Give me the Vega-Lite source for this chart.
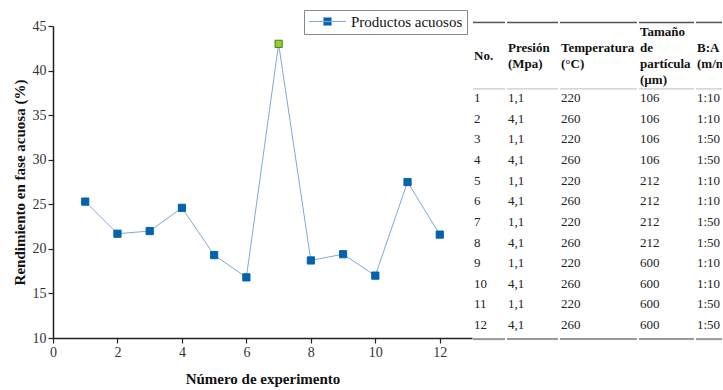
{
  "$schema": "https://vega.github.io/schema/vega-lite/v6.json",
  "padding": {"left": 12, "top": 9, "right": 0, "bottom": 4},
  "autosize": {"type": "pad"},
  "spacing": 0,
  "datasets": {
    "exp": [
      {"No": 1, "Presion": "1,1", "Temperatura": "220", "Tamano": "106", "BA": "1:10", "Rendimiento": 25.3},
      {"No": 2, "Presion": "4,1", "Temperatura": "260", "Tamano": "106", "BA": "1:10", "Rendimiento": 21.7},
      {"No": 3, "Presion": "1,1", "Temperatura": "220", "Tamano": "106", "BA": "1:50", "Rendimiento": 22.0},
      {"No": 4, "Presion": "4,1", "Temperatura": "260", "Tamano": "106", "BA": "1:50", "Rendimiento": 24.6},
      {"No": 5, "Presion": "1,1", "Temperatura": "220", "Tamano": "212", "BA": "1:10", "Rendimiento": 19.3},
      {"No": 6, "Presion": "4,1", "Temperatura": "260", "Tamano": "212", "BA": "1:10", "Rendimiento": 16.8},
      {"No": 7, "Presion": "1,1", "Temperatura": "220", "Tamano": "212", "BA": "1:50", "Rendimiento": 43.0},
      {"No": 8, "Presion": "4,1", "Temperatura": "260", "Tamano": "212", "BA": "1:50", "Rendimiento": 18.7},
      {"No": 9, "Presion": "1,1", "Temperatura": "220", "Tamano": "600", "BA": "1:10", "Rendimiento": 19.4},
      {"No": 10, "Presion": "4,1", "Temperatura": "260", "Tamano": "600", "BA": "1:10", "Rendimiento": 17.0},
      {"No": 11, "Presion": "1,1", "Temperatura": "220", "Tamano": "600", "BA": "1:50", "Rendimiento": 27.5},
      {"No": 12, "Presion": "4,1", "Temperatura": "260", "Tamano": "600", "BA": "1:50", "Rendimiento": 21.6}
    ]
  },
  "resolve": {"legend": {"color": "independent"}},
  "hconcat": [
    {
      "width": 419,
      "height": 312,
      "data": {"name": "exp"},
      "layer": [
        {
          "mark": {"type": "line", "strokeWidth": 1},
          "encoding": {
            "x": {"field": "No", "type": "quantitative"},
            "y": {"field": "Rendimiento", "type": "quantitative"},
            "color": {
              "datum": "Productos acuosos",
              "type": "nominal",
              "scale": {"range": ["#7FA9D9"]},
              "legend": {
                "title": null,
                "orient": "none",
                "legendX": 251,
                "legendY": -16,
                "strokeColor": "#888",
                "fillColor": "white",
                "padding": 4,
                "labelFont": "Liberation Serif",
                "labelFontSize": 15,
                "labelColor": "#111",
                "symbolType": "M-2.64,0H2.64M-0.57,-0.57H0.57V0.57H-0.57Z",
                "symbolSize": 196,
                "symbolStrokeWidth": 1,
                "symbolFillColor": "#0563AE",
                "symbolOffset": 12,
                "labelOffset": 16
              }
            }
          }
        },
        {
          "mark": {"type": "point", "shape": "square", "filled": true, "size": 52, "opacity": 1, "strokeWidth": 1},
          "encoding": {
            "x": {
              "field": "No",
              "type": "quantitative",
              "scale": {"domain": [0, 13], "nice": false, "zero": false},
              "axis": {
                "values": [0, 1, 2, 3, 4, 5, 6, 7, 8, 9, 10, 11, 12, 13],
                "labelExpr": "datum.value % 2 == 0 ? datum.label : ''",
                "grid": false,
                "tickSize": 5,
                "tickWidth": 1.2,
                "domainWidth": 1.5,
                "domainColor": "#222",
                "tickColor": "#222",
                "labelFont": "Liberation Serif",
                "labelFontSize": 14,
                "labelColor": "#333",
                "labelPadding": 2,
                "labelFlush": false,
                "labelOverlap": false,
                "title": "Número de experimento",
                "titleFont": "Liberation Serif",
                "titleFontSize": 15,
                "titleFontWeight": "bold",
                "titleColor": "#111",
                "titlePadding": 12
              }
            },
            "y": {
              "field": "Rendimiento",
              "type": "quantitative",
              "scale": {"domain": [10, 45], "nice": false, "zero": false},
              "axis": {
                "values": [10, 12.5, 15, 17.5, 20, 22.5, 25, 27.5, 30, 32.5, 35, 37.5, 40, 42.5, 45],
                "labelExpr": "datum.value % 5 == 0 ? datum.label : ''",
                "grid": false,
                "tickSize": 5,
                "tickWidth": 1.2,
                "domainWidth": 1.5,
                "domainColor": "#222",
                "tickColor": "#222",
                "labelFont": "Liberation Serif",
                "labelFontSize": 14,
                "labelColor": "#333",
                "labelPadding": 2,
                "labelFlush": false,
                "labelOverlap": false,
                "title": "Rendimiento en fase acuosa (%)",
                "titleFont": "Liberation Serif",
                "titleFontSize": 15,
                "titleFontWeight": "bold",
                "titleColor": "#111",
                "titlePadding": 5
              }
            },
            "fill": {"condition": {"test": "datum.No == 7", "value": "#92D12A"}, "value": "#0563AE"},
            "stroke": {"condition": {"test": "datum.No == 7", "value": "#4E7A2E"}, "value": "#0563AE"}
          }
        }
      ]
    },
    {
      "width": 32,
      "height": 316,
      "data": {"name": "exp"},
      "layer": [
        {"data": {"values": [{}]}, "mark": {"type": "rule", "color": "#555", "strokeWidth": 1.5}, "encoding": {"y": {"datum": -2.66, "type": "quantitative", "scale": {"domain": [-2.488, 12.82], "reverse": true, "nice": false, "zero": false}, "axis": null}}},
        {"data": {"values": [{}]}, "mark": {"type": "rule", "color": "#bbb", "strokeWidth": 1}, "encoding": {"y": {"datum": 0.56, "type": "quantitative"}}},
        {"data": {"values": [{}]}, "mark": {"type": "rule", "color": "#999", "strokeWidth": 2}, "encoding": {"y": {"datum": 12.68, "type": "quantitative"}}},
        {"data": {"values": [{}]}, "mark": {"type": "text", "align": "left", "baseline": "middle", "dx": 1, "font": "Liberation Serif", "fontSize": 13, "fontWeight": "bold", "lineHeight": 16, "color": "#111"}, "encoding": {"x": {"datum": "c", "type": "nominal", "bandPosition": 0, "scale": {"type": "band", "paddingInner": 0, "paddingOuter": 0}, "axis": null}, "y": {"datum": -1.035, "type": "quantitative"}, "text": {"value": ["No."]}}},
        {"mark": {"type": "text", "align": "left", "baseline": "middle", "dx": 1, "font": "Liberation Serif", "fontSize": 13, "color": "#222"}, "encoding": {"x": {"datum": "c", "type": "nominal", "bandPosition": 0}, "y": {"field": "No", "type": "quantitative"}, "text": {"field": "No"}}}
      ]
    },
    {
      "width": 51,
      "height": 316,
      "data": {"name": "exp"},
      "layer": [
        {"data": {"values": [{}]}, "mark": {"type": "rule", "color": "#555", "strokeWidth": 1.5}, "encoding": {"y": {"datum": -2.66, "type": "quantitative", "scale": {"domain": [-2.488, 12.82], "reverse": true, "nice": false, "zero": false}, "axis": null}}},
        {"data": {"values": [{}]}, "mark": {"type": "rule", "color": "#bbb", "strokeWidth": 1}, "encoding": {"y": {"datum": 0.56, "type": "quantitative"}}},
        {"data": {"values": [{}]}, "mark": {"type": "rule", "color": "#999", "strokeWidth": 2}, "encoding": {"y": {"datum": 12.68, "type": "quantitative"}}},
        {"data": {"values": [{}]}, "mark": {"type": "text", "align": "left", "baseline": "middle", "dx": 1, "font": "Liberation Serif", "fontSize": 13, "fontWeight": "bold", "lineHeight": 16, "color": "#111"}, "encoding": {"x": {"datum": "c", "type": "nominal", "bandPosition": 0, "scale": {"type": "band", "paddingInner": 0, "paddingOuter": 0}, "axis": null}, "y": {"datum": -1.4225, "type": "quantitative"}, "text": {"value": ["Presión", "(Mpa)"]}}},
        {"mark": {"type": "text", "align": "left", "baseline": "middle", "dx": 1, "font": "Liberation Serif", "fontSize": 13, "color": "#222"}, "encoding": {"x": {"datum": "c", "type": "nominal", "bandPosition": 0}, "y": {"field": "No", "type": "quantitative"}, "text": {"field": "Presion"}}}
      ]
    },
    {
      "width": 77,
      "height": 316,
      "data": {"name": "exp"},
      "layer": [
        {"data": {"values": [{}]}, "mark": {"type": "rule", "color": "#555", "strokeWidth": 1.5}, "encoding": {"y": {"datum": -2.66, "type": "quantitative", "scale": {"domain": [-2.488, 12.82], "reverse": true, "nice": false, "zero": false}, "axis": null}}},
        {"data": {"values": [{}]}, "mark": {"type": "rule", "color": "#bbb", "strokeWidth": 1}, "encoding": {"y": {"datum": 0.56, "type": "quantitative"}}},
        {"data": {"values": [{}]}, "mark": {"type": "rule", "color": "#999", "strokeWidth": 2}, "encoding": {"y": {"datum": 12.68, "type": "quantitative"}}},
        {"data": {"values": [{}]}, "mark": {"type": "text", "align": "left", "baseline": "middle", "dx": 1, "font": "Liberation Serif", "fontSize": 13, "fontWeight": "bold", "lineHeight": 16, "color": "#111"}, "encoding": {"x": {"datum": "c", "type": "nominal", "bandPosition": 0, "scale": {"type": "band", "paddingInner": 0, "paddingOuter": 0}, "axis": null}, "y": {"datum": -1.4225, "type": "quantitative"}, "text": {"value": ["Temperatura", "(°C)"]}}},
        {"mark": {"type": "text", "align": "left", "baseline": "middle", "dx": 1, "font": "Liberation Serif", "fontSize": 13, "color": "#222"}, "encoding": {"x": {"datum": "c", "type": "nominal", "bandPosition": 0}, "y": {"field": "No", "type": "quantitative"}, "text": {"field": "Temperatura"}}}
      ]
    },
    {
      "width": 55,
      "height": 316,
      "data": {"name": "exp"},
      "layer": [
        {"data": {"values": [{}]}, "mark": {"type": "rule", "color": "#555", "strokeWidth": 1.5}, "encoding": {"y": {"datum": -2.66, "type": "quantitative", "scale": {"domain": [-2.488, 12.82], "reverse": true, "nice": false, "zero": false}, "axis": null}}},
        {"data": {"values": [{}]}, "mark": {"type": "rule", "color": "#bbb", "strokeWidth": 1}, "encoding": {"y": {"datum": 0.56, "type": "quantitative"}}},
        {"data": {"values": [{}]}, "mark": {"type": "rule", "color": "#999", "strokeWidth": 2}, "encoding": {"y": {"datum": 12.68, "type": "quantitative"}}},
        {"data": {"values": [{}]}, "mark": {"type": "text", "align": "left", "baseline": "middle", "dx": 1, "font": "Liberation Serif", "fontSize": 13, "fontWeight": "bold", "lineHeight": 16, "color": "#111"}, "encoding": {"x": {"datum": "c", "type": "nominal", "bandPosition": 0, "scale": {"type": "band", "paddingInner": 0, "paddingOuter": 0}, "axis": null}, "y": {"datum": -2.198, "type": "quantitative"}, "text": {"value": ["Tamaño", "de", "partícula", "(µm)"]}}},
        {"mark": {"type": "text", "align": "left", "baseline": "middle", "dx": 1, "font": "Liberation Serif", "fontSize": 13, "color": "#222"}, "encoding": {"x": {"datum": "c", "type": "nominal", "bandPosition": 0}, "y": {"field": "No", "type": "quantitative"}, "text": {"field": "Tamano"}}}
      ]
    },
    {
      "width": 26,
      "height": 316,
      "data": {"name": "exp"},
      "layer": [
        {"data": {"values": [{}]}, "mark": {"type": "rule", "color": "#555", "strokeWidth": 1.5}, "encoding": {"y": {"datum": -2.66, "type": "quantitative", "scale": {"domain": [-2.488, 12.82], "reverse": true, "nice": false, "zero": false}, "axis": null}}},
        {"data": {"values": [{}]}, "mark": {"type": "rule", "color": "#bbb", "strokeWidth": 1}, "encoding": {"y": {"datum": 0.56, "type": "quantitative"}}},
        {"data": {"values": [{}]}, "mark": {"type": "rule", "color": "#999", "strokeWidth": 2}, "encoding": {"y": {"datum": 12.68, "type": "quantitative"}}},
        {"data": {"values": [{}]}, "mark": {"type": "text", "align": "left", "baseline": "middle", "dx": 1, "font": "Liberation Serif", "fontSize": 13, "fontWeight": "bold", "lineHeight": 16, "color": "#111", "clip": true}, "encoding": {"x": {"datum": "c", "type": "nominal", "bandPosition": 0, "scale": {"type": "band", "paddingInner": 0, "paddingOuter": 0}, "axis": null}, "y": {"datum": -1.4225, "type": "quantitative"}, "text": {"value": ["B:A", "(m/m)"]}}},
        {"mark": {"type": "text", "align": "left", "baseline": "middle", "dx": 1, "font": "Liberation Serif", "fontSize": 13, "color": "#222", "clip": true}, "encoding": {"x": {"datum": "c", "type": "nominal", "bandPosition": 0}, "y": {"field": "No", "type": "quantitative"}, "text": {"field": "BA"}}}
      ]
    }
  ],
  "config": {
    "view": {"stroke": null},
    "background": "white"
  }
}
